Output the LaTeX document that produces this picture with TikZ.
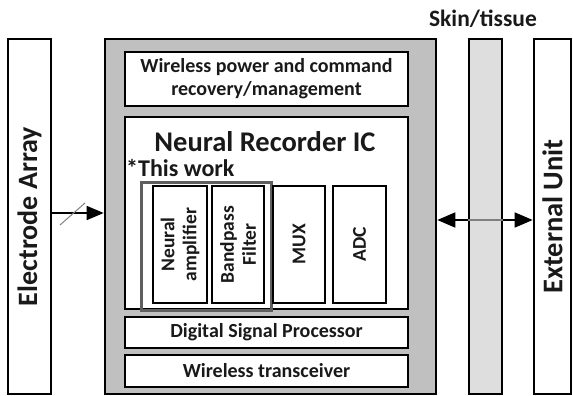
\documentclass[tikz,border=0pt]{standalone}
\usepackage{fontspec}
\setmainfont{Carlito}
\usetikzlibrary{arrows.meta}
\definecolor{chipgray}{RGB}{192,192,192}
\definecolor{skingray}{RGB}{222,222,222}
\definecolor{workgray}{RGB}{95,95,95}
\definecolor{inkcol}{RGB}{25,25,25}
\tikzset{
  every node/.style={text=inkcol},
  outerbox/.style={draw=black, line width=2.6pt, rectangle, inner sep=0pt},
  blockbox/.style={draw=black, line width=1.7pt, fill=white, rectangle, inner sep=0pt, align=center, font=\bfseries\fontsize{20}{23}\selectfont},
  vblock/.style={draw=black, line width=1.7pt, fill=white, rectangle, inner sep=0pt},
  vtext/.style={rotate=90, align=center, font=\bfseries\fontsize{19.5}{22}\selectfont},
  bigtip/.style={-{Triangle[length=17pt,width=14pt]}, line width=1.6pt},
}
\begin{document}
\begin{tikzpicture}[x=1pt, y=-1pt]
\useasboundingbox (0,0) rectangle (573,396);

% left and right side units, skin layer
\node[outerbox, fill=white, minimum width=43pt, minimum height=355pt] (ea) at (29.5,216.5) {};
\node[rotate=90, font=\bfseries\fontsize{28}{30}\selectfont] (eatext) at (ea.center) {Electrode Array};
\node[outerbox, fill=chipgray, minimum width=331pt, minimum height=355pt] (main) at (270.5,216.5) {};
\node[outerbox, fill=skingray, minimum width=33pt, minimum height=355pt] (skin) at (485.5,216.5) {};
\node[outerbox, fill=white, minimum width=37pt, minimum height=355pt] (ext) at (552.5,216.5) {};
\node[rotate=90, font=\bfseries\fontsize{28.5}{30}\selectfont] (exttext) at (ext.center) {External Unit};
\node[font=\bfseries\fontsize{23.5}{25}\selectfont] (skinlabel) at (483,19) {Skin/tissue};

% blocks inside the implant
\node[blockbox, minimum width=283pt, minimum height=54pt] (wpc) at (266.5,79) {Wireless power and command\\recovery/management};
\node[blockbox, minimum width=283pt, minimum height=192pt] (nrc) at (266.5,213) {};
\node[font=\bfseries\fontsize{28.5}{30}\selectfont] (nrctitle) at (265,142) {Neural Recorder IC};
\node[font=\bfseries\fontsize{24}{26}\selectfont, anchor=west, inner sep=0pt] (thiswork) at (126,168) {*This work};
\node[blockbox, minimum width=283pt, minimum height=31pt] (dsp) at (266.5,332.5) {Digital Signal Processor};
\node[blockbox, minimum width=283pt, minimum height=32pt] (wt) at (266.5,371) {Wireless transceiver};

% front-end chain
\node[draw=workgray, line width=3pt, minimum width=130pt, minimum height=128pt, inner sep=0pt] (work) at (206,246) {};
\node[vblock, minimum width=54pt, minimum height=117pt] (namp) at (180,244.5) {};
\node[vtext] at (namp.center) {Neural\\amplifier};
\node[vblock, minimum width=52pt, minimum height=117pt] (bpf) at (238,244.5) {};
\node[vtext] at (bpf.center) {Bandpass\\Filter};
\node[vblock, minimum width=52pt, minimum height=117pt] (mux) at (299,244.5) {};
\node[vtext] at (mux.center) {MUX};
\node[vblock, minimum width=53pt, minimum height=117pt] (adc) at (359.5,244.5) {};
\node[vtext] at (adc.center) {ADC};

% connections
\coordinate (inY) at (0,213);
\coordinate (linkY) at (0,220);
\draw[bigtip] (ea.east |- inY) -- (main.west |- inY);
\coordinate (slashA) at (60,225);
\coordinate (slashB) at (85,203);
\draw[gray, line width=1pt] (slashA) -- (slashB);
\draw[{Triangle[length=18pt,width=15pt]}-{Triangle[length=18pt,width=15pt]}, line width=1.6pt] (main.east |- linkY) -- (ext.west |- linkY);
\draw[gray, line width=1.4pt] (skin.west |- linkY) -- (skin.east |- linkY);
\end{tikzpicture}
\end{document}
